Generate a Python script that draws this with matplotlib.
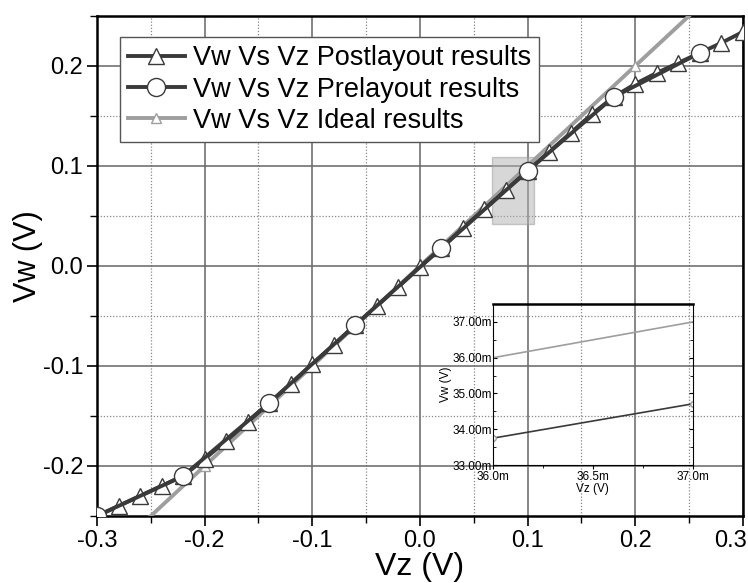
import numpy as np
import matplotlib
matplotlib.use('Agg')
import matplotlib.pyplot as plt
import matplotlib.transforms as mtransforms
from matplotlib.patches import Rectangle
from matplotlib.ticker import MultipleLocator, FuncFormatter

plt.rcParams['font.family'] = ['Liberation Sans', 'DejaVu Sans']

# main data (V)
vz_post = [-0.30, -0.28, -0.26, -0.24, -0.22, -0.20, -0.18, -0.16, -0.14, -0.12,
           -0.10, -0.08, -0.06, -0.04, -0.02, 0.00, 0.02, 0.04, 0.06, 0.08,
           0.10, 0.12, 0.14, 0.16, 0.18, 0.20, 0.22, 0.24, 0.26, 0.28, 0.30]
vw_post = [-0.250, -0.240, -0.230, -0.220, -0.210, -0.193, -0.175, -0.156, -0.137, -0.118,
           -0.098, -0.079, -0.059, -0.040, -0.021, -0.001, 0.018, 0.038, 0.057, 0.076,
           0.095, 0.114, 0.133, 0.152, 0.169, 0.182, 0.193, 0.203, 0.213, 0.223, 0.234]

vz_pre = [-0.30, -0.22, -0.14, -0.06, 0.02, 0.10, 0.18, 0.26]
vw_pre = [-0.250, -0.210, -0.137, -0.059, 0.018, 0.095, 0.169, 0.213]

vz_ideal = [-0.30, -0.20, -0.10, 0.00, 0.10, 0.20, 0.30]
vw_ideal = [-0.30, -0.20, -0.10, 0.00, 0.10, 0.20, 0.30]

# zoomed inset data (mV)
inset_vz = [36.0, 37.0]
inset_ideal = [36.0, 37.0]
inset_pre = [33.75, 34.71]

dark = '#3a3a3a'
light = '#9e9e9e'

fig = plt.figure(figsize=(7.48, 5.83), dpi=100)
ax = fig.add_axes([0.1297, 0.115, 0.8633, 0.8576])

ax.plot(vz_ideal, vw_ideal, color=light, lw=2.8, marker='^', ms=7,
        mfc='white', mec=light, label='Vw Vs Vz Ideal results', zorder=3)
ax.plot(vz_post, vw_post, color=dark, lw=2.8, marker='^', ms=11,
        mfc='white', mec=dark, mew=1, label='Vw Vs Vz Postlayout results', zorder=4)
ax.plot(vz_pre, vw_pre, color=dark, lw=2.8, marker='o', ms=13,
        mfc='white', mec=dark, mew=1, label='Vw Vs Vz Prelayout results', zorder=5)

# highlighted zoom region
ax.add_patch(Rectangle((0.067, 0.042), 0.039, 0.067, facecolor='#b0b0b0',
                       edgecolor='#999999', alpha=0.5, zorder=2))

ax.set_xlim(-0.3, 0.3)
ax.set_ylim(-0.25, 0.25)
ax.xaxis.set_major_locator(MultipleLocator(0.1))
ax.xaxis.set_minor_locator(MultipleLocator(0.05))
ax.yaxis.set_major_locator(MultipleLocator(0.1))
ax.yaxis.set_minor_locator(MultipleLocator(0.05))
ax.xaxis.set_major_formatter(FuncFormatter(lambda v, p: f'{v:.1f}'.replace('-0.0', '0.0')))
ax.yaxis.set_major_formatter(FuncFormatter(lambda v, p: f'{v:.1f}'.replace('-0.0', '0.0')))
ax.grid(which='major', color='#666666', lw=1.1, ls='-')
ax.grid(which='minor', color='#888888', lw=0.9, ls=(0, (1, 1.5)))
ax.tick_params(which='major', labelsize=17, length=7, width=1.2, direction='out', pad=3)
ax.tick_params(which='minor', length=5, width=1.0, direction='out')
for s in ax.spines.values():
    s.set_linewidth(1.8)
ax.set_xlabel('Vz (V)', fontsize=23)
ax.set_ylabel('Vw (V)', fontsize=22)
ax.xaxis.set_label_coords(0.5, -0.072)
ax.yaxis.set_label_coords(-0.083, 0.52)

# keep the last x tick label inside the figure
fig.canvas.draw()
last = [t for t in ax.get_xticklabels() if t.get_text() == '0.3'][-1]
last.set_horizontalalignment('right')
last.set_transform(last.get_transform() +
                   mtransforms.ScaledTranslation(0.04, 0, fig.dpi_scale_trans))

handles, labels = ax.get_legend_handles_labels()
order = [1, 2, 0]
leg = ax.legend([handles[i] for i in order], [labels[i] for i in order],
                loc='upper left', bbox_to_anchor=(0.035, 0.958), fontsize=19.5,
                fancybox=False, framealpha=1, edgecolor='#555555',
                handlelength=2.1, handletextpad=0.3, borderpad=0.3,
                borderaxespad=0, labelspacing=0.2)
leg.get_frame().set_linewidth(1.0)
leg.set_zorder(10)

# inset
ins = fig.add_axes([0.659, 0.2024, 0.267, 0.276])
ins.patch.set_alpha(0)
ins.plot(inset_vz, inset_ideal, color=light, lw=1.2)
ins.plot(inset_vz, inset_pre, color=dark, lw=1.2, marker='o', ms=4,
         mfc='white', mec=light)
ins.set_xlim(36.0, 37.0)
ins.set_ylim(33.0, 37.5)
ins.xaxis.set_major_locator(MultipleLocator(0.5))
ins.xaxis.set_minor_locator(MultipleLocator(0.25))
ins.yaxis.set_major_locator(MultipleLocator(1.0))
ins.yaxis.set_minor_locator(MultipleLocator(0.5))
ins.xaxis.set_major_formatter(FuncFormatter(lambda v, p: f'{v:.1f}m'))
ins.yaxis.set_major_formatter(FuncFormatter(lambda v, p: f'{v:.2f}m'))
ins.tick_params(which='major', labelsize=8.5, length=3, width=0.8, pad=1)
ins.tick_params(which='minor', length=2, width=0.6)
ins.tick_params(axis='y', right=True, which='both', direction='in')
for side in ['left', 'bottom', 'right']:
    ins.spines[side].set_linewidth(0.8)
ins.spines['top'].set_linewidth(1.8)
ins.set_xlabel('Vz (V)', fontsize=8.5, labelpad=0)
ins.set_ylabel('Vw (V)', fontsize=8.5, labelpad=0)

fig.savefig('out.png', dpi=100)
